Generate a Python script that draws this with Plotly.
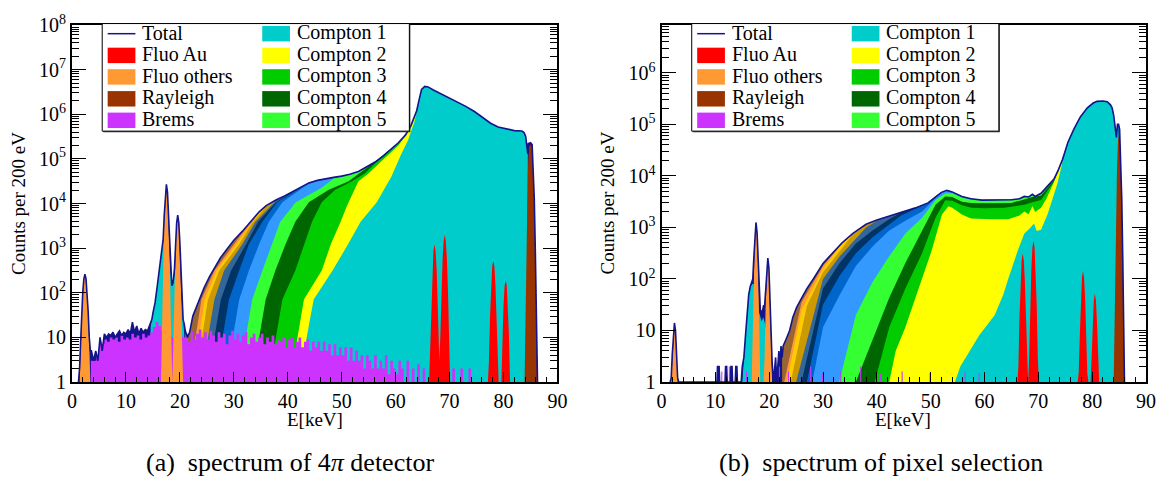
import plotly.graph_objects as go

FONT = "Liberation Serif"

# ---------------- colours ----------------
C_TOTAL = "#14148c"
C_AU = "#ff0000"
C_FLUO = "#ff9933"
C_RAY = "#993300"
C_BREMS = "#cc33ff"
C_C = ["#00cccc", "#ffff00", "#00cc00", "#006600", "#33ff33", "#3399ff",
       "#0066cc", "#003366", "#336699", "#cc9900", "#ffcc00", "#ff9933", "#996633"]

# ================= LEFT PANEL (4pi detector) =================
L_total_E = [1.2, 1.4, 1.6, 1.8, 2.0, 2.2, 2.4, 2.6, 2.8, 3.0, 3.2, 3.4, 3.6, 4.0, 4.4, 4.8, 5.2, 5.6, 6.0, 6.4,
             6.8, 7.2, 7.6, 8.0, 8.4, 8.8, 9.2, 9.6, 10.0, 10.4, 10.8, 11.2, 11.6, 12.0, 12.4, 12.8, 13.2, 13.6, 14.0, 14.4,
             14.8, 15.0, 15.4, 15.8, 16.1, 16.5, 16.7, 16.9, 17.1, 17.3, 17.5, 17.7, 17.9, 18.1, 18.3, 18.5, 18.6, 18.8, 19.0, 19.2,
             19.4, 19.6, 19.8, 20.0, 20.2, 20.4, 20.6, 20.8, 21.0, 21.4, 21.8, 22.4, 23.4, 24.5, 25.5, 26.5, 27.5, 28.5, 30.0, 31.6,
             33.0, 34.7, 36.0, 37.8, 39.5, 40.8, 42.5, 43.9, 45.5, 47.0, 48.5, 50.0, 51.5, 53.1, 54.5, 56.2, 57.8, 59.2, 60.5, 61.8,
             62.8, 63.5, 63.9, 64.3, 64.8, 65.4, 66.0, 67.0, 68.4, 70.0, 71.5, 73.0, 74.6, 76.0, 77.6, 79.0, 80.7, 82.0, 83.4, 83.8,
             84.1, 84.3, 84.5, 84.6, 85.0, 85.3, 85.5, 85.7, 85.9, 86.1, 86.3]
L_total = [1, 2, 8, 36, 105, 205, 260, 205, 105, 38, 10, 5, 5, 3, 5, 3, 10, 5, 12, 10,
           12, 11, 13, 10, 12, 14, 11, 13, 12, 15, 12, 22, 13, 18, 12, 16, 13, 15, 14, 18,
           25, 35, 60, 140, 300, 700, 1100, 1600, 5500, 18000, 27000, 18000, 5500, 1100, 250, 145, 150, 200, 350, 1300,
           3700, 5500, 3700, 1300, 250, 60, 25, 20, 14, 10, 13, 30, 60, 130, 230, 380, 600, 870, 1500, 2400,
           3800, 6500, 9000, 12000, 15000, 18000, 23000, 29000, 33000, 36000, 38500, 41000, 45000, 52000, 64000, 85000, 120000, 166000, 230000, 340000,
           550000, 900000, 1200000, 2000000, 3600000, 4200000, 4100000, 3500000, 2900000, 2300000, 1900000, 1500000, 1150000, 850000, 630000, 520000, 460000, 430000, 420000, 390000,
           320000, 170000, 130000, 220000, 230000, 210000, 70000, 13000, 800, 60, 1]

L_fluo_E = [1.4, 1.6, 1.8, 2.0, 2.2, 2.4, 2.6, 2.8, 3.0, 3.2, 3.4, 16.5, 16.7, 16.9, 17.1, 17.3, 17.5, 17.7, 17.9, 18.1,
            18.3, 18.5, 18.6, 18.8, 19.0, 19.2, 19.4, 19.6, 19.8, 20.0, 20.2, 20.4, 20.6]
L_fluo = [1, 7, 34, 100, 200, 250, 200, 100, 34, 7, 1, 1, 37, 650, 5200, 17800, 27000, 17800, 5200, 650,
          37, 1, 1, 8, 130, 1050, 3600, 5500, 3600, 1050, 130, 8, 1]

L_au_E = [66.2, 66.4, 66.6, 66.8, 67.0, 67.2, 67.4, 67.6, 67.8, 68.0, 68.1, 68.3, 68.5, 68.7, 68.9, 69.1, 69.3, 69.5, 69.7, 69.9,
          70.1, 77.1, 77.3, 77.5, 77.7, 77.9, 78.1, 78.3, 78.5, 78.7, 78.9, 79.1, 79.6, 79.8, 80.0, 80.2, 80.4, 80.6, 80.8, 81.0, 81.2]
L_au = [1, 7, 67, 333, 870, 1200, 870, 333, 67, 7, 3, 12, 110, 560, 1450, 2000, 1450, 560, 110, 12,
        1, 1, 3, 30, 147, 385, 530, 385, 147, 30, 3, 1, 1, 11, 54, 142, 195, 142, 54, 11, 1]

L_ray_E = [83.9, 84.1, 84.3, 84.5, 84.7, 85.0, 85.3, 85.5, 85.7, 85.9, 86.1, 86.2]
L_ray = [1, 50, 3000, 50000, 180000, 210000, 180000, 60000, 10000, 600, 30, 1]

# bremsstrahlung, 0.5 keV bins starting at 3.5 keV
L_brems_start = 3.5
L_brems_bin = 0.5
L_brems = [3, 3, 4, 8, 7, 9, 8, 10, 9, 10, 8, 11, 9, 10, 9, 12, 10, 11, 9, 12,
           10, 11, 13, 17, 22, 18, 14, 12, 12, 11, 10, 11, 10, 11, 10, 12, 8, 14, 9, 12,
           15, 10, 13, 9, 14, 11, 8, 13, 10, 12, 7, 11, 14, 9, 12, 8, 11, 13, 7, 10,
           12, 8, 10, 12, 7, 10, 8, 11, 7, 9, 8, 10, 6, 9, 10, 6, 8, 10, 6, 8,
           9, 5, 8, 6, 8, 5, 8, 5, 7, 4, 7, 4, 6, 4, 6, 3, 6, 3, 5, 3,
           4, 2, 4, 3, 2, 4, 2, 3, 2, 4, 1.5, 3, 2, 1.5, 3, 2, 1, 3, 1, 2,
           1, 2.5, 1, 2, 1, 1, 2, 1, 1, 1, 1, 1, 1, 1, 2, 1, 1, 2, 1, 1,
           2, 1, 1, 1, 1]

L_c1low_E = [14.3, 14.6, 15.0, 15.4, 15.8, 16.1, 16.5, 16.7, 16.9, 17.1, 17.5, 17.9, 18.1, 18.3, 18.5, 18.8, 19.0, 19.4, 19.8, 20.2,
             20.4, 20.6, 20.8, 21.0]
L_c1low = [1, 18, 35, 60, 140, 300, 700, 1050, 1400, 1500, 1300, 900, 500, 200, 140, 160, 250, 350, 300, 100,
           40, 20, 12, 1]

L_c1_E = [42.5, 43.5, 44.8, 48.3, 51.2, 53.5, 56.5, 58.0, 59.2, 61.0, 62.3, 63.5, 64.3]
L_c1 = [1, 10, 71, 316, 1230, 3890, 10700, 22400, 40000, 126000, 260000, 690000, 1900000]
L_c2_E = [40.4, 43.0, 46.3, 48.0, 49.8, 51.0, 53.1, 55.0, 57.8, 60.5, 62.8, 63.9]
L_c2 = [1, 71, 316, 1230, 3890, 9000, 31600, 47900, 100000, 200000, 480000, 1100000]
L_c3_E = [36.4, 39.0, 41.4, 43.0, 44.5, 46.3, 48.8, 51.9, 54.3, 56.2, 57.8]
L_c3 = [1, 71, 316, 1230, 3890, 10700, 20400, 31600, 47900, 80000, 115000]
L_c4_E = [33.3, 35.9, 37.7, 39.6, 41.4, 43.9, 47.6, 51.3, 53.1, 54.5]
L_c4 = [1, 71, 316, 1230, 3890, 10700, 20400, 31600, 46000, 61000]
L_c5_E = [30.8, 33.4, 35.3, 37.1, 38.6, 41.5, 46.3, 48.5]
L_c5 = [1, 71, 316, 1230, 3890, 10700, 22400, 36500]
L_c6_E = [28.4, 31.0, 32.8, 34.7, 36.5, 39.0, 42.5, 43.9]
L_c6 = [1, 71, 316, 1230, 3890, 10700, 21500, 27500]
L_c7_E = [26.5, 29.1, 31.0, 32.8, 35.3, 38.0, 40.8]
L_c7 = [1, 71, 316, 1230, 3890, 10700, 17200]
L_c8_E = [25.0, 27.6, 29.5, 32.3, 34.5, 37.8, 39.5]
L_c8 = [1, 71, 316, 1230, 3890, 10700, 14300]
L_c9_E = [23.8, 26.4, 28.2, 31.6, 34.0, 37.8]
L_c9 = [1, 71, 316, 1230, 3890, 11500]
L_c10_E = [22.8, 25.2, 27.3, 31.0, 33.3, 36.0]
L_c10 = [1, 71, 316, 1230, 3500, 8600]
L_c11_E = [22.2, 24.6, 26.8, 30.5, 34.7]
L_c11 = [1, 71, 316, 1230, 6200]
L_c12_E = [21.6, 24.0, 26.4, 30.0, 33.0]
L_c12 = [1, 71, 316, 1230, 3700]

# ================= RIGHT PANEL (pixel selection) =================
R_total_E = [1.6, 1.8, 2.0, 2.2, 2.4, 2.6, 2.8, 3.0, 3.2,
             10.3, 10.4, 10.7, 10.8, 11.8, 11.9, 12.1, 12.2, 12.8, 12.9, 13.1, 13.2, 13.7, 13.8, 14.0, 14.1,
             14.8, 15.0, 15.3, 15.6, 15.9, 16.2, 16.5, 16.75, 16.95, 17.15, 17.35, 17.55, 17.75, 17.95, 18.15, 18.35, 18.55, 18.75,
             18.95, 19.15, 19.35, 19.55, 19.75, 19.95, 20.15, 20.35, 20.55, 20.8,
             21.0, 21.2, 21.4, 21.6, 21.8, 22.0, 22.2, 22.4, 22.6, 23.2, 23.8, 24.4, 25.1, 26.0, 27.0, 28.2, 29.0, 30.0,
             31.0, 31.8, 33.5, 35.5, 38.0, 40.0, 42.3, 44.5, 47.2, 49.5, 50.9, 52.0, 53.0, 54.0, 55.8, 57.5, 59.5, 61.3,
             63.1, 65.0, 66.5, 67.4, 68.2, 68.9, 69.4, 70.5, 71.5, 72.9, 73.7, 74.5, 75.5, 76.6, 77.8, 79.1, 80.2, 80.9,
             82.0, 82.8, 83.4, 83.7, 84.0, 84.3, 84.5, 84.7, 84.9, 85.1, 85.3, 85.5, 85.7, 85.8, 86.0]
R_total = [1, 1.2, 3.5, 10, 14, 10, 3.5, 1.2, 1,
           1, 2, 2, 1, 1, 2, 2, 1, 1, 2, 2, 1, 1, 2, 2, 1,
           1, 2, 3, 8, 25, 50, 72, 85, 100, 260, 840, 1250, 800, 210, 45, 25, 23, 24,
           30, 30, 60, 170, 255, 165, 40, 6, 2.4, 1,
           2, 3, 1, 2, 4, 2, 5, 3, 5, 7, 10, 18, 28, 42, 65, 100, 140, 200,
           260, 320, 500, 760, 1150, 1400, 1660, 2000, 2400, 3000, 4000, 4800, 5250, 4900, 4000, 3600, 3400, 3400,
           3400, 3450, 3600, 4000, 3900, 4400, 4000, 4600, 6000, 8700, 13000, 21000, 45000, 81000, 140000, 210000, 260000, 280000,
           285000, 275000, 240000, 210000, 150000, 93000, 56000, 100000, 100000, 80000, 20000, 3600, 200, 10, 1]

R_fluo_E = [1.8, 2.0, 2.2, 2.4, 2.6, 2.8, 3.0, 16.75, 16.95, 17.15, 17.35, 17.55, 17.75, 17.95, 18.15, 18.35,
            18.95, 19.15, 19.35, 19.55, 19.75, 19.95, 20.15, 20.35, 20.55]
R_fluo = [1, 3, 9, 13, 9, 3, 1, 1, 14, 170, 760, 1250, 760, 170, 14, 1,
          1, 3, 34, 155, 255, 155, 34, 3, 1]

R_au_E = [66.1, 66.3, 66.5, 66.7, 66.9, 67.1, 67.3, 67.5, 67.7, 67.9, 68.0, 68.1, 68.3, 68.5, 68.7, 68.9, 69.1, 69.3, 69.5, 69.7,
          69.9, 70.1, 77.3, 77.5, 77.7, 77.9, 78.1, 78.3, 78.5, 78.7, 78.9, 79.1, 79.3, 79.7, 79.9, 80.1, 80.3, 80.5, 80.7, 80.9,
          81.1, 81.3]
R_au = [1, 2, 18, 88, 229, 316, 229, 88, 18, 2, 1, 1, 3, 31, 156, 407, 560, 407, 156, 31,
        3, 1, 1, 1.5, 8, 40, 105, 145, 105, 40, 8, 1.5, 1, 1, 3, 14, 38, 52, 38, 14,
        3, 1]

R_ray_E = [84.0, 84.2, 84.4, 84.6, 84.8, 85.0, 85.2, 85.4, 85.6, 85.8, 86.0]
R_ray = [1, 30, 800, 12000, 50000, 60000, 40000, 6000, 400, 10, 1]

R_brems_E = [11.2, 12.6, 15.8, 21.9, 23.6, 27.7, 29.9, 33.3, 37.0, 40.7, 44.7, 49.9, 56.4, 59.0]
R_brems = [1.6, 2, 1.6, 2, 1.6, 2, 1.5, 1.6, 2, 1.5, 1.6, 1.5, 1.6, 1.5]

R_c1low_E = [15.0, 15.3, 15.6, 15.9, 16.2, 16.5, 16.8, 17.1, 17.4, 17.7, 18.0, 18.3, 18.6, 18.9, 19.2, 19.5, 19.8, 20.1, 20.4]
R_c1low = [1, 3, 8, 25, 50, 70, 80, 80, 60, 40, 25, 18, 15, 18, 14, 9, 5, 2, 1]

R_c1_E = [54.5, 55.5, 57.0, 59.0, 61.9, 63.5, 64.4, 65.6, 66.2, 67.4, 68.4, 69.2, 69.7, 70.5, 71.7, 72.6, 73.6, 74.5]
R_c1 = [1, 2, 3.6, 8, 20, 50, 100, 240, 360, 760, 950, 1200, 850, 900, 1780, 3500, 7500, 19000]
R_c2_E = [42.3, 43.5, 45.3, 47.8, 50.2, 52.1, 53.3, 54.0, 55.8, 57.5, 59.5, 61.3, 64.4, 66.5, 67.4, 68.2, 68.9, 69.4, 70.5, 71.5,
          72.9, 73.7, 74.5]
R_c2 = [1, 4, 11.5, 65, 360, 1780, 2570, 2400, 1780, 1500, 1450, 1450, 1450, 1700, 2040, 1800, 2600, 2000, 2400, 3600,
        7600, 12000, 19500]
R_c3_E = [39.6, 42.3, 45.3, 48.4, 50.9, 52.7, 54.0, 55.8, 57.6, 60.0, 63.7, 66.5, 67.4, 68.9, 70.5, 71.5, 72.9, 73.7, 74.5]
R_c3 = [1, 11.5, 65, 316, 1550, 3390, 3300, 2700, 2400, 2350, 2400, 2600, 2750, 3100, 3400, 4800, 7800, 12300, 20000]
R_c4_E = [36.1, 39.2, 42.3, 45.3, 48.4, 50.9, 52.7, 54.0, 55.8, 57.5, 60.7, 65.0, 67.4, 68.9, 70.5, 71.5, 72.9, 73.7, 74.5]
R_c4 = [1, 6.5, 43, 204, 870, 2750, 4000, 3900, 3160, 3000, 2950, 3000, 3500, 3900, 4150, 5500, 8300, 12600, 20500]
R_c5_E = [33.0, 36.1, 39.2, 42.3, 45.3, 48.4, 50.9, 52.7, 54.0, 55.8, 57.5]
R_c5 = [1, 20, 87, 275, 760, 1550, 3400, 4570, 4600, 3800, 3450]
R_c6_E = [28.0, 30.0, 33.1, 36.1, 39.2, 42.3, 45.3, 48.4, 50.9]
R_c6 = [1, 11.5, 49, 178, 427, 870, 1350, 2040, 3700]
R_c7_E = [27.0, 30.0, 33.1, 36.1, 39.2, 42.3, 44.5, 47.2]
R_c7 = [1, 32, 115, 316, 645, 1150, 1700, 2300]
R_c8_E = [26.0, 30.0, 33.1, 36.1, 39.2, 42.3, 44.5]
R_c8 = [1, 65, 204, 490, 870, 1450, 1950]
R_c9_E = [25.0, 30.0, 33.1, 36.1, 38.0, 40.0]
R_c9 = [1, 100, 275, 600, 1000, 1350]
R_c10_E = [24.0, 27.0, 30.0, 33.1, 35.5, 38.0]
R_c10 = [1, 30, 135, 340, 720, 1120]
R_c11_E = [23.3, 26.0, 30.0, 33.1, 35.5]
R_c11 = [1, 25, 160, 420, 745]
R_c12_E = [22.8, 26.0, 30.0, 33.5, 35.5]
R_c12 = [1, 35, 180, 480, 755]

# axis ticks
X_TICKS = [0, 10, 20, 30, 40, 50, 60, 70, 80, 90]
Y_TICKS = [1, 10, 100, 1000, 10000, 100000, 1000000, 10000000, 100000000]
Y_TICKTEXT = ["1", "10", "10<sup>2</sup>", "10<sup>3</sup>", "10<sup>4</sup>", "10<sup>5</sup>",
              "10<sup>6</sup>", "10<sup>7</sup>", "10<sup>8</sup>"]

LEGEND_LABELS = ["Total", "Fluo Au", "Fluo others", "Rayleigh", "Brems",
                 "Compton 1", "Compton 2", "Compton 3", "Compton 4", "Compton 5"]

# ---------------- checks ----------------
for a, b, n in [(L_total_E, L_total, "Lt"), (L_fluo_E, L_fluo, "Lf"), (L_au_E, L_au, "La"), (L_ray_E, L_ray, "Lr"),
                (L_c1low_E, L_c1low, "Lc1l"), (R_total_E, R_total, "Rt"), (R_fluo_E, R_fluo, "Rf"),
                (R_au_E, R_au, "Ra"), (R_ray_E, R_ray, "Rr"), (R_brems_E, R_brems, "Rb"), (R_c1low_E, R_c1low, "Rc1l")]:
    if len(a) != len(b):
        raise SystemExit(f"length mismatch {n}: {len(a)} vs {len(b)}")

fig = go.Figure()


def add_fill(xs, ys, color, ax, shape="linear"):
    fig.add_trace(go.Scatter(x=xs, y=ys, mode="lines", fill="tozeroy", fillcolor=color,
                             line=dict(width=0, color=color, shape=shape),
                             xaxis="x" + ax, yaxis="y" + ax, showlegend=False, hoverinfo="skip"))


def with_total(E, v, tE, tv, emax):
    xs, ys = list(E), list(v)
    for e, t in zip(tE, tv):
        if E[-1] < e <= emax:
            xs.append(e)
            ys.append(t)
    return xs, ys


def panel(ax, tE, tv, comp, c13_from, merge, c1_end, c1low, brems_xy, ray, fluo, au):
    add_fill(tE, tv, C_TOTAL, ax)
    c13 = [(e, t) for e, t in zip(tE, tv) if c13_from <= e <= merge]
    add_fill([p[0] for p in c13], [p[1] for p in c13], C_C[12], ax)
    for k in range(11, 0, -1):
        E, v = comp[k]
        xs, ys = with_total(E, v, tE, tv, merge)
        add_fill(xs, ys, C_C[k], ax)
    E, v = comp[0]
    xs, ys = with_total(E, v, tE, tv, c1_end)
    add_fill(xs, ys, C_C[0], ax)
    add_fill(c1low[0], c1low[1], C_C[0], ax)
    add_fill(brems_xy[0], brems_xy[1], C_BREMS, ax, shape="hv")
    add_fill(ray[0], ray[1], C_RAY, ax)
    add_fill(fluo[0], fluo[1], C_FLUO, ax)
    add_fill(au[0], au[1], C_AU, ax)
    fig.add_trace(go.Scatter(x=tE, y=tv, mode="lines", line=dict(width=1.6, color=C_TOTAL),
                             xaxis="x" + ax, yaxis="y" + ax, showlegend=False, hoverinfo="skip"))


# brems step data
Lb_x = [L_brems_start + L_brems_bin * i for i in range(len(L_brems) + 1)]
Lb_y = list(L_brems) + [1]
Rb_x, Rb_y = [0.0], [1]
for e, v in zip(R_brems_E, R_brems):
    Rb_x += [e - 0.1, e + 0.1]
    Rb_y += [v, 1]

L_comp = [(L_c1_E, L_c1), (L_c2_E, L_c2), (L_c3_E, L_c3), (L_c4_E, L_c4), (L_c5_E, L_c5), (L_c6_E, L_c6),
          (L_c7_E, L_c7), (L_c8_E, L_c8), (L_c9_E, L_c9), (L_c10_E, L_c10), (L_c11_E, L_c11), (L_c12_E, L_c12)]
R_comp = [(R_c1_E, R_c1), (R_c2_E, R_c2), (R_c3_E, R_c3), (R_c4_E, R_c4), (R_c5_E, R_c5), (R_c6_E, R_c6),
          (R_c7_E, R_c7), (R_c8_E, R_c8), (R_c9_E, R_c9), (R_c10_E, R_c10), (R_c11_E, R_c11), (R_c12_E, R_c12)]

panel("", L_total_E, L_total, L_comp, 21.4, 64.3, 84.5, (L_c1low_E, L_c1low), (Lb_x, Lb_y),
      (L_ray_E, L_ray), (L_fluo_E, L_fluo), (L_au_E, L_au))
panel("2", R_total_E, R_total, R_comp, 22.4, 74.5, 84.9, (R_c1low_E, R_c1low), (Rb_x, Rb_y),
      (R_ray_E, R_ray), (R_fluo_E, R_fluo), (R_au_E, R_au))

# ---------------- axes ----------------
PL, PR, PT, PB = 72, 1156, 12, 382
W = PR - PL
H = PB - PT


def px(X):
    return (X - PL) / W


def py(Y):
    return (PB - Y) / H


tickfont = dict(family=FONT, size=20, color="black")
x_minor = [v for v in range(2, 90, 2) if v % 10]
y_minor = [m * 10 ** d for d in range(0, 8) for m in range(2, 10)]


def xaxis(dom):
    return dict(domain=dom, range=[0, 90], tickvals=X_TICKS, ticks="inside", ticklen=10, tickwidth=1.3,
                tickcolor="black", showline=True, linewidth=2, linecolor="black", mirror=True,
                showgrid=False, zeroline=False, tickfont=tickfont,
                minor=dict(ticks="inside", ticklen=5, tickwidth=1, tickcolor="black", tickvals=x_minor,
                           showgrid=False))


def yaxis(top, anchor):
    return dict(type="log", range=[0, top], tickvals=Y_TICKS, ticktext=Y_TICKTEXT, ticks="inside",
                ticklen=14, tickwidth=1.3, tickcolor="black", showline=True, linewidth=2, linecolor="black",
                mirror="allticks", showgrid=False, zeroline=False, tickfont=tickfont, anchor=anchor,
                minor=dict(ticks="inside", ticklen=7, tickwidth=1, tickcolor="black", tickvals=y_minor,
                           showgrid=False))


fig.update_layout(
    width=1168, height=484,
    margin=dict(l=PL, r=1168 - PR, t=PT, b=484 - PB),
    paper_bgcolor="white", plot_bgcolor="white",
    xaxis=dict(xaxis([0, px(562)]), anchor="y"),
    yaxis=yaxis(8, "x"),
    xaxis2=dict(xaxis([px(667), 1.0]), anchor="y2"),
    yaxis2=yaxis(6.93, "x2"),
    showlegend=False,
)

shapes = []
annotations = []

# legends (drawn by hand, ROOT style)
LEG_COLORS = [None, C_AU, C_FLUO, C_RAY, C_BREMS, C_C[0], C_C[1], C_C[2], C_C[3], C_C[4]]
row_y = [21, 43.5, 65.8, 88.5, 110.8]
for dx in (0, 595):
    x0, x1, y0, y1 = 102.5 + dx, 412.5 + dx, 10.5, 122
    shapes.append(dict(type="rect", xref="paper", yref="paper", x0=px(x0 + 1), x1=px(x1 + 1),
                       y0=py(y1 + 1.2), y1=py(y0 + 1), fillcolor="#333333", line=dict(width=0)))
    shapes.append(dict(type="rect", xref="paper", yref="paper", x0=px(x0), x1=px(x1), y0=py(y1), y1=py(y0),
                       fillcolor="white", line=dict(color="black", width=1)))
    for i, lab in enumerate(LEGEND_LABELS):
        col, row = divmod(i, 5)
        sx = (108 if col == 0 else 264) + dx
        tx = (141 if col == 0 else 297) + dx
        cy = row_y[row]
        if LEG_COLORS[i] is None:
            shapes.append(dict(type="line", xref="paper", yref="paper", x0=px(sx), x1=px(sx + 28),
                               y0=py(cy), y1=py(cy), line=dict(color=C_TOTAL, width=1.5)))
        else:
            shapes.append(dict(type="rect", xref="paper", yref="paper", x0=px(sx), x1=px(sx + 28),
                               y0=py(cy + 8), y1=py(cy - 8), fillcolor=LEG_COLORS[i], line=dict(width=0)))
        annotations.append(dict(text=lab, xref="paper", yref="paper", x=px(tx), y=py(cy - 1),
                                xanchor="left", yanchor="middle", showarrow=False,
                                font=dict(family=FONT, size=20, color="black")))

# axis titles and captions
for cx, ytx in ((317, 18), (911, 612)):
    annotations.append(dict(text="E[keV]", xref="paper", yref="paper", x=px(cx), y=py(421),
                            xanchor="center", yanchor="middle", showarrow=False,
                            font=dict(family=FONT, size=19, color="black")))
    annotations.append(dict(text="Counts per 200 eV", xref="paper", yref="paper", x=px(ytx), y=py(197),
                            xanchor="center", yanchor="middle", showarrow=False, textangle=-90,
                            font=dict(family=FONT, size=19, color="black")))
annotations.append(dict(text="(a)  spectrum of 4<i>π</i> detector", xref="paper", yref="paper",
                        x=px(292), y=py(465), xanchor="center", yanchor="middle", showarrow=False,
                        font=dict(family=FONT, size=26, color="black")))
annotations.append(dict(text="(b)  spectrum of pixel selection", xref="paper", yref="paper",
                        x=px(889), y=py(465), xanchor="center", yanchor="middle", showarrow=False,
                        font=dict(family=FONT, size=26, color="black")))

fig.update_layout(shapes=shapes, annotations=annotations)
fig.write_html("out.html")
